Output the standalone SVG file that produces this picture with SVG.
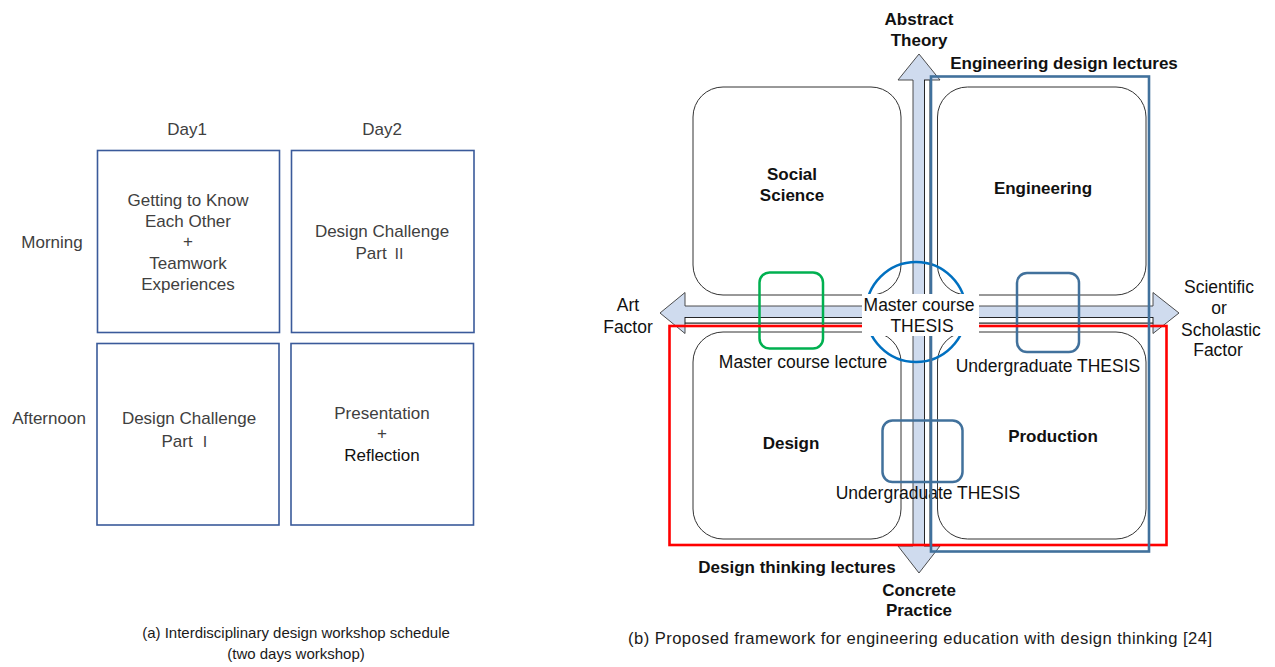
<svg xmlns="http://www.w3.org/2000/svg" width="1275" height="667" viewBox="0 0 1275 667">
  <style>
    .cell { fill: #ffffff; stroke: #3a5a9a; stroke-width: 1.6; }
    .lt { font-family: "Liberation Sans", Arial, sans-serif; font-size: 17px; fill: #404040; text-anchor: middle; }
    .num { font-family: "Noto Sans CJK JP", "Noto Sans CJK SC", sans-serif; font-size: 15px; }
    .cap { font-family: "Liberation Sans", Arial, sans-serif; font-size: 15px; fill: #1a1a1a; text-anchor: middle; }
    .rt { font-family: "Liberation Sans", Arial, sans-serif; font-size: 17.5px; fill: #111111; text-anchor: middle; }
    .bt { font-family: "Liberation Sans", Arial, sans-serif; font-size: 17px; font-weight: bold; fill: #111111; text-anchor: middle; }
    .quad { fill: #ffffff; stroke: #333333; stroke-width: 1; }
    .axis { fill: #cfdbee; stroke: #3a3a3a; stroke-width: 0.9; }
    .strip { fill: #ffffff; stroke: #111111; stroke-width: 0.9; }
    .small { fill: none; stroke: #41719c; stroke-width: 2.5; }
  </style>

  <!-- (a) workshop schedule -->
  <g id="schedule-headers">
    <text class="lt" x="187" y="135">Day1</text>
    <text class="lt" x="382" y="135">Day2</text>
    <text class="lt" x="52" y="248">Morning</text>
    <text class="lt" x="49" y="424">Afternoon</text>
  </g>
  <g id="day1-morning">
    <rect class="cell" x="97.5" y="150.5" width="182" height="182"/>
    <text class="lt" x="188" y="206">Getting to Know</text>
    <text class="lt" x="188" y="227">Each Other</text>
    <text class="lt" x="188" y="247">+</text>
    <text class="lt" x="188" y="269">Teamwork</text>
    <text class="lt" x="188" y="290">Experiences</text>
  </g>
  <g id="day2-morning">
    <rect class="cell" x="291.5" y="150.5" width="182.5" height="182"/>
    <text class="lt" x="382" y="237">Design Challenge</text>
    <text class="lt" x="381" y="258.5">Part <tspan class="num">Ⅱ</tspan></text>
  </g>
  <g id="day1-afternoon">
    <rect class="cell" x="97" y="343.5" width="182" height="181.5"/>
    <text class="lt" x="189" y="424">Design Challenge</text>
    <text class="lt" x="187" y="446.5">Part <tspan class="num">Ⅰ</tspan></text>
  </g>
  <g id="day2-afternoon">
    <rect class="cell" x="291" y="343.5" width="182.5" height="181.5"/>
    <text class="lt" x="382" y="419">Presentation</text>
    <text class="lt" x="382" y="439">+</text>
    <text class="lt" x="382" y="461" style="fill:#111111">Reflection</text>
  </g>
  <g id="caption-a">
    <text class="cap" x="296" y="638">(a) Interdisciplinary design workshop schedule</text>
    <text class="cap" x="296" y="659">(two days workshop)</text>
  </g>

  <!-- (b) framework: axes -->
  <g id="connectors">
    <!-- horizontal double arrow: Art factor / Scientific factor -->
    <path class="axis" d="M660,313 L685,292.5 L685,306 L1153,306 L1153,292.5 L1179,313 L1153,333.5 L1153,323 L685,323 L685,333.5 Z"/>
    <rect class="strip" x="685" y="317.5" width="468" height="5.5"/>
    <!-- vertical double arrow: Abstract theory / Concrete practice -->
    <path class="axis" d="M919,54 L940,80 L930,80 L930,546 L940,546 L919,573 L898,546 L913,546 L913,80 L898,80 Z"/>
    <rect class="strip" x="924.5" y="80" width="5.5" height="466"/>
  </g>

  <g id="social-science">
    <rect class="quad" x="693" y="87" width="208" height="208" rx="30"/>
    <text class="bt" x="792" y="180">Social</text>
    <text class="bt" x="792" y="201">Science</text>
  </g>
  <g id="engineering">
    <rect class="quad" x="937.5" y="87" width="208.5" height="208" rx="30"/>
    <text class="bt" x="1043" y="194">Engineering</text>
  </g>
  <g id="design">
    <rect class="quad" x="693" y="332" width="208" height="207" rx="30"/>
    <text class="bt" x="791" y="449">Design</text>
  </g>
  <g id="production">
    <rect class="quad" x="937.5" y="332" width="208.5" height="207" rx="30"/>
    <text class="bt" x="1053" y="442">Production</text>
  </g>

  <g id="master-course-lecture">
    <rect x="759.5" y="272.5" width="63.5" height="76" rx="10" fill="none" stroke="#00b050" stroke-width="2.5"/>
    <text class="rt" x="803" y="368">Master course lecture</text>
  </g>
  <g id="undergraduate-thesis-upper">
    <rect class="small" x="1017" y="273" width="62" height="79" rx="10"/>
    <text class="rt" x="1048" y="372">Undergraduate THESIS</text>
  </g>
  <g id="undergraduate-thesis-lower">
    <rect class="small" x="882.5" y="420.5" width="80" height="61.5" rx="10"/>
    <text class="rt" x="928" y="499">Undergraduate THESIS</text>
  </g>
  <g id="master-course-thesis-ring">
    <circle cx="916" cy="312" r="50" fill="none" stroke="#0070c0" stroke-width="2.5"/>
  </g>

  <g id="design-thinking-lectures">
    <rect x="669.5" y="326" width="497" height="219" fill="none" stroke="#ff0000" stroke-width="2.6"/>
    <text class="bt" x="797" y="573">Design thinking lectures</text>
  </g>
  <g id="engineering-design-lectures">
    <rect x="931" y="76.5" width="218" height="475" fill="none" stroke="#41719c" stroke-width="2.6"/>
    <text class="bt" x="1064" y="69">Engineering design lectures</text>
  </g>

  <g id="master-course-thesis">
    <rect x="862" y="294" width="117" height="42" fill="#ffffff"/>
    <text class="rt" x="919" y="311">Master course</text>
    <text class="rt" x="922" y="332">THESIS</text>
  </g>

  <g id="axis-labels">
    <text class="bt" x="919" y="24.5">Abstract</text>
    <text class="bt" x="919" y="46">Theory</text>
    <text class="bt" x="919" y="595.5">Concrete</text>
    <text class="bt" x="919" y="616">Practice</text>
    <text class="rt" x="628" y="311">Art</text>
    <text class="rt" x="628" y="333">Factor</text>
    <text class="rt" x="1219" y="293">Scientific</text>
    <text class="rt" x="1219" y="314">or</text>
    <text class="rt" x="1221" y="335.5">Scholastic</text>
    <text class="rt" x="1218" y="356">Factor</text>
  </g>

  <g id="caption-b">
    <text class="cap" x="920" y="644" style="font-size:16.6px" textLength="584" lengthAdjust="spacing">(b) Proposed framework for engineering education with design thinking [24]</text>
  </g>
</svg>
